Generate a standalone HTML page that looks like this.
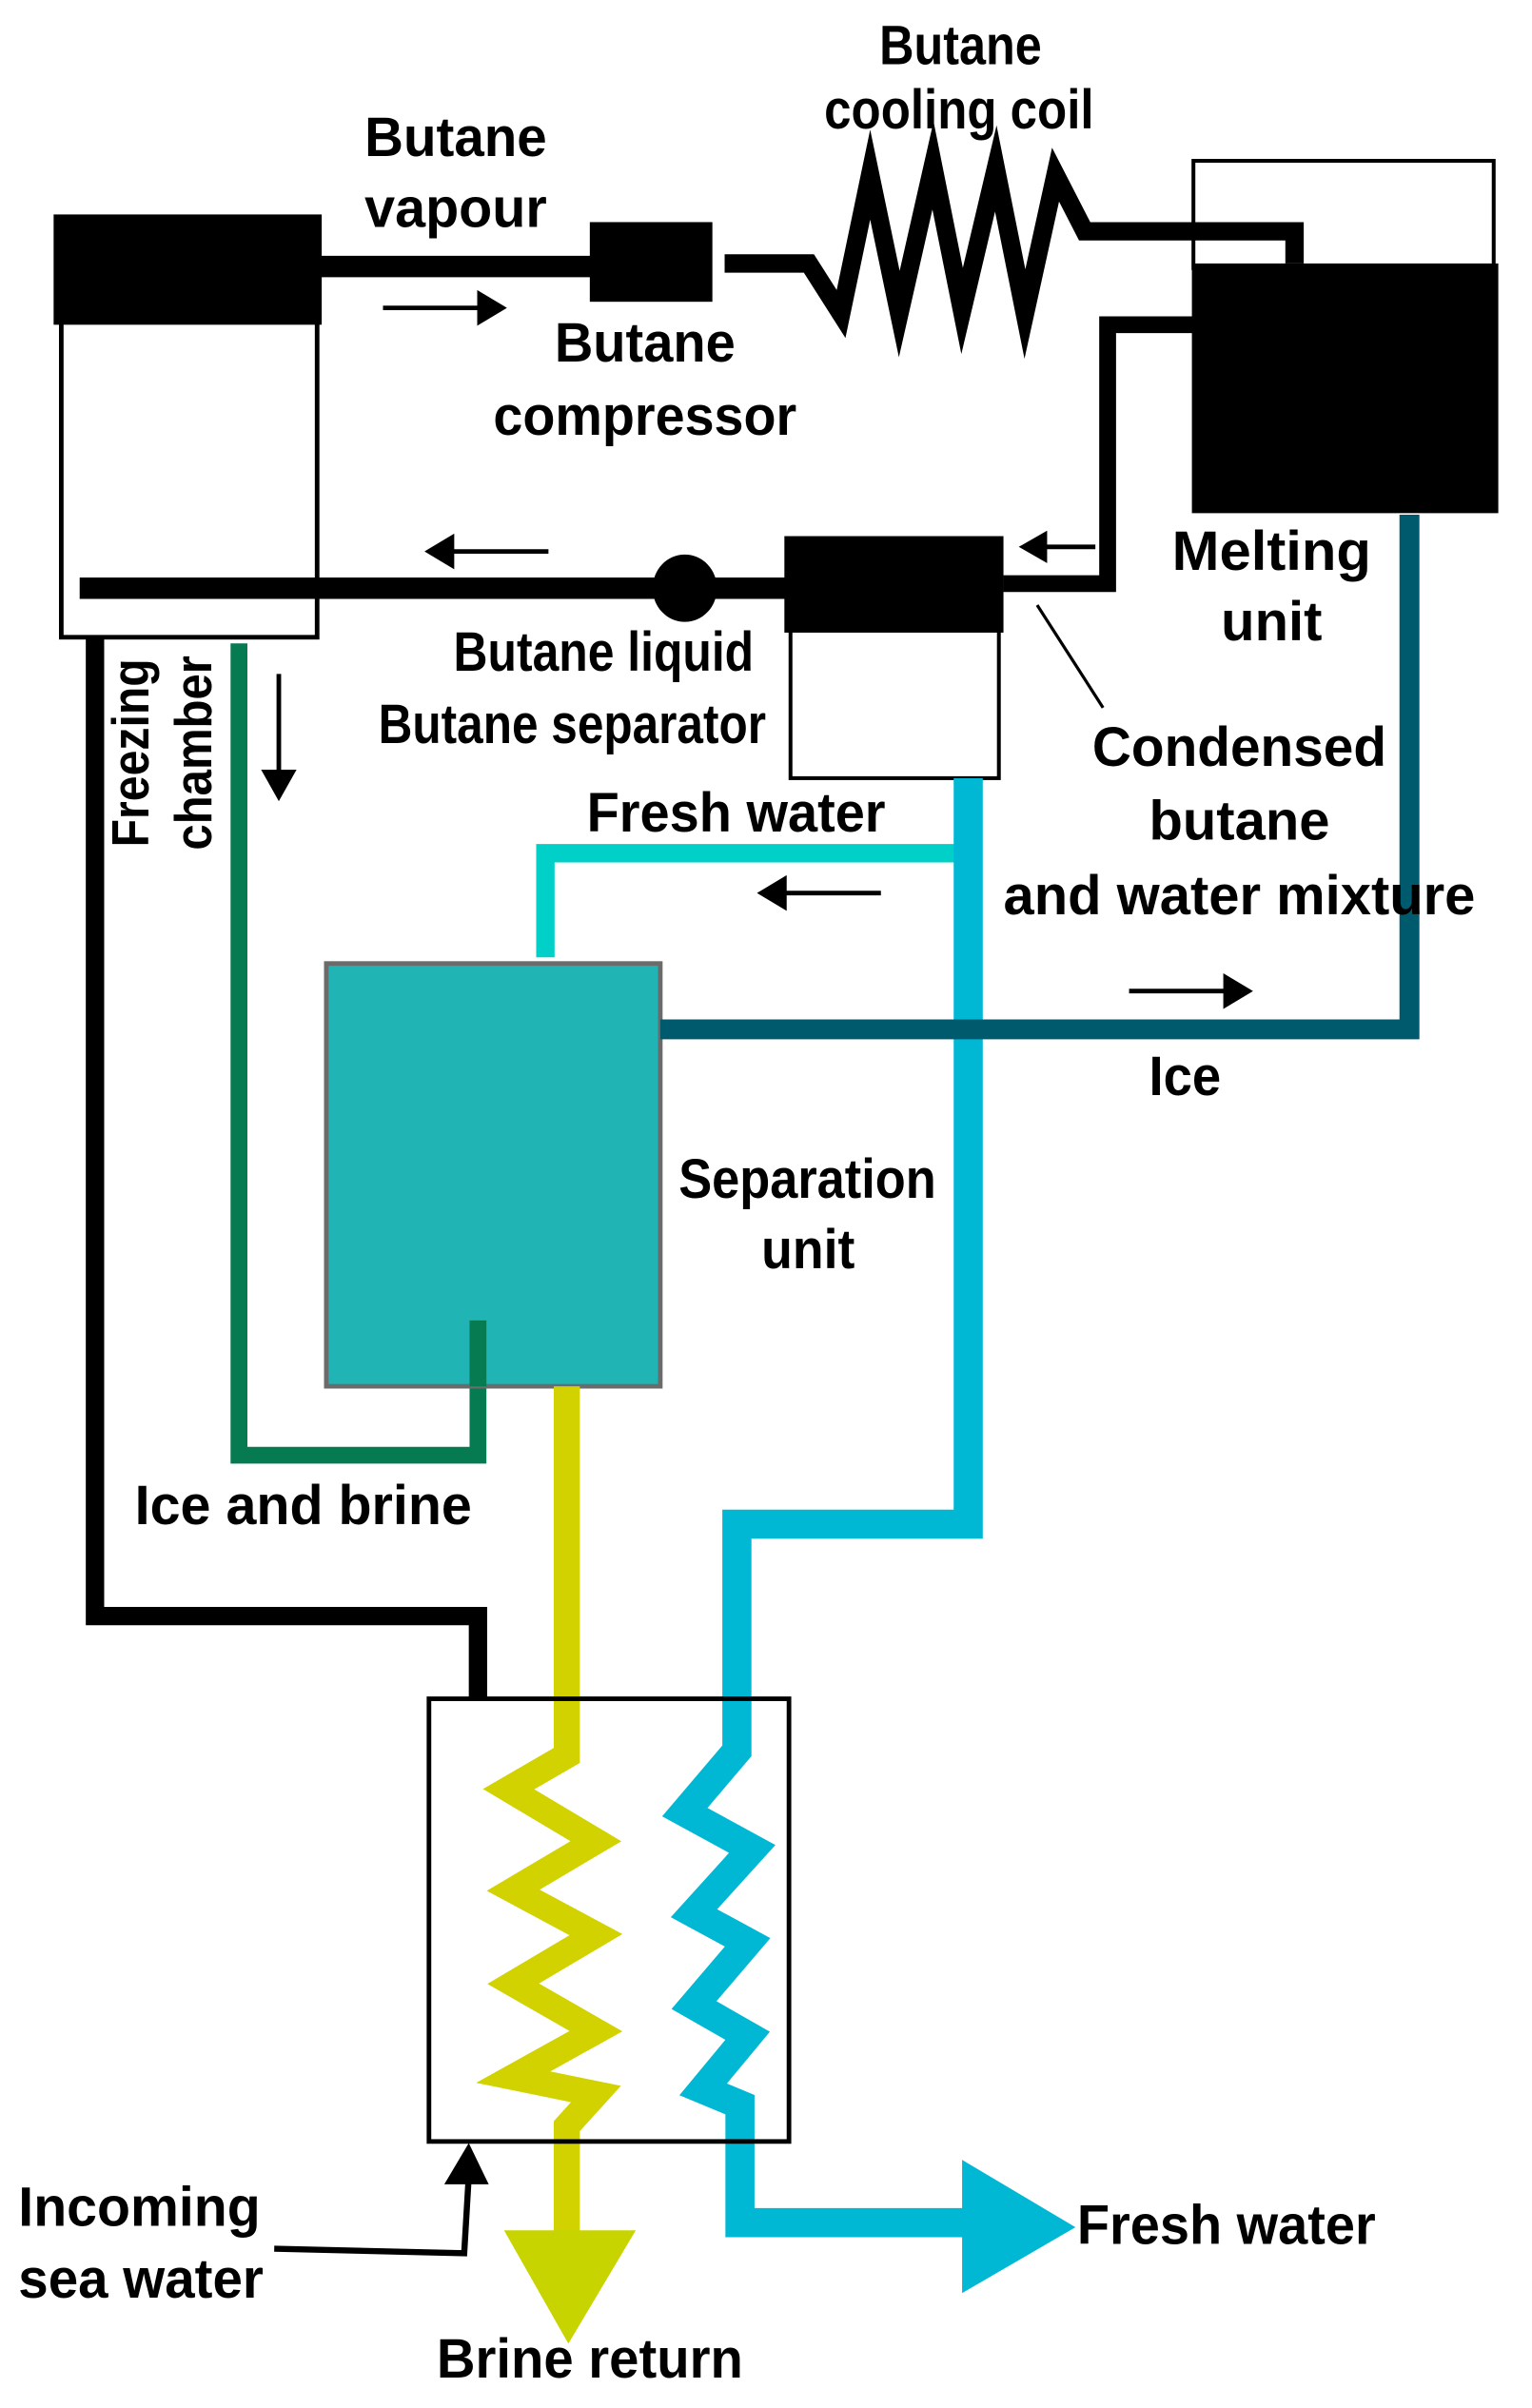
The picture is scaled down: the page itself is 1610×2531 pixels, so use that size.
<!DOCTYPE html>
<html><head><meta charset="utf-8"><style>
html,body{margin:0;padding:0;background:#fff;}
svg{display:block;}
text{font-family:"Liberation Sans",sans-serif;font-weight:bold;font-size:36px;fill:#000;}
</style></head><body>
<svg width="1610" height="2531" viewBox="0 0 1000 1572" preserveAspectRatio="none" xmlns="http://www.w3.org/2000/svg">
<rect width="1000" height="1572" fill="#fff"/>
<!-- freezing chamber -->
<rect x="40" y="205" width="167" height="211" fill="#fff" stroke="#000" stroke-width="3"/>
<rect x="35" y="140" width="175" height="72" fill="#000"/>
<!-- vapour pipe -->
<line x1="205" y1="174" x2="390" y2="174" stroke="#000" stroke-width="14"/>
<rect x="385" y="145" width="80" height="52" fill="#000"/>
<!-- melting unit -->
<rect x="779" y="105" width="196" height="70" fill="#fff" stroke="#000" stroke-width="2.5"/>
<!-- coil -->
<polyline points="473,172 528,172 549,205 568,114 587,205 609,108 628,203 650,110 669,205 689,114 708,151 845,151 845,172" fill="none" stroke="#000" stroke-width="12" stroke-linejoin="miter" stroke-miterlimit="10"/>
<rect x="778" y="172" width="200" height="163" fill="#000"/>
<!-- return pipe -->
<polyline points="780,212 723,212 723,381 655,381" fill="none" stroke="#000" stroke-width="11"/>
<!-- separator -->
<rect x="516" y="405" width="136" height="103" fill="#fff" stroke="#000" stroke-width="2.5"/>
<rect x="512" y="350" width="143" height="63" fill="#000"/>
<!-- liquid pipe -->
<line x1="52" y1="384" x2="515" y2="384" stroke="#000" stroke-width="14"/>
<ellipse cx="447" cy="384" rx="21" ry="22" fill="#000"/>
<!-- leader -->
<line x1="677" y1="395" x2="720" y2="462" stroke="#000" stroke-width="2"/>
<!-- black pipe to HX -->
<polyline points="62,416 62,1055 312,1055 312,1108" fill="none" stroke="#000" stroke-width="12"/>
<!-- green -->
<polyline points="156,420 156,950 312,950 312,862" fill="none" stroke="#067a50" stroke-width="11"/>
<!-- light cyan fresh -->
<polyline points="630,557 356,557 356,625" fill="none" stroke="#00d0c8" stroke-width="12"/>
<!-- blue fresh -->
<polyline points="632,508 632,995 481,995 481,1143 447,1183 491,1207 453,1249 488,1268 453,1309 488,1329 459,1364 483,1374 483,1451 635,1451" fill="none" stroke="#00b8d4" stroke-width="19"/>
<polygon points="628,1410 702,1454 628,1497" fill="#00b8d4"/>
<!-- separation unit -->
<rect x="213" y="629" width="218" height="276" fill="#20b5b4" stroke="#6b6b6b" stroke-width="3"/>
<line x1="312" y1="862" x2="312" y2="905" stroke="#067a50" stroke-width="11"/>
<!-- ice pipe -->
<polyline points="431,672 920,672 920,336" fill="none" stroke="#005a6e" stroke-width="13"/>
<!-- yellow -->
<polyline points="370,905 370,1146 332,1168 389,1202 335,1234 389,1263 335,1295 389,1326 335,1356 389,1367 370,1388 370,1460" fill="none" stroke="#d2d200" stroke-width="17"/>
<polygon points="329,1456 415,1456 371,1530" fill="#c8d400"/>
<!-- heat exchanger box -->
<rect x="280" y="1109" width="235" height="289" fill="none" stroke="#000" stroke-width="3"/>
<!-- incoming sea water arrow -->
<polyline points="179,1468 303,1471 306,1420" fill="none" stroke="#000" stroke-width="4"/>
<polygon points="306,1399 290,1426 319,1426" fill="#000"/>
<!-- arrows -->
<g stroke="#000" stroke-width="3" fill="#000">
<line x1="250" y1="201" x2="315" y2="201"/><polygon points="328,201 313,192 313,210"/>
<line x1="358" y1="360" x2="293" y2="360"/><polygon points="280,360 295,351 295,369"/>
<line x1="715" y1="357" x2="680" y2="357"/><polygon points="668,357 682,349 682,365"/>
<line x1="182" y1="440" x2="182" y2="505"/><polygon points="182,520 173,504 191,504"/>
<line x1="575" y1="583" x2="510" y2="583"/><polygon points="497,583 512,574 512,592"/>
<line x1="737" y1="647" x2="802" y2="647"/><polygon points="815,647 800,638 800,656"/>
</g>
<!-- labels -->
<text x="574" y="42" textLength="106" lengthAdjust="spacingAndGlyphs">Butane</text>
<text x="538" y="84" textLength="176" lengthAdjust="spacingAndGlyphs">cooling coil</text>
<text x="238" y="102" textLength="119" lengthAdjust="spacingAndGlyphs">Butane</text>
<text x="238" y="148" textLength="119" lengthAdjust="spacingAndGlyphs">vapour</text>
<text x="362" y="236" textLength="118" lengthAdjust="spacingAndGlyphs">Butane</text>
<text x="322" y="284" textLength="198" lengthAdjust="spacingAndGlyphs">compressor</text>
<text x="765" y="372" textLength="130" lengthAdjust="spacingAndGlyphs">Melting</text>
<text x="797" y="418" textLength="66" lengthAdjust="spacingAndGlyphs">unit</text>
<text x="296" y="438" textLength="196" lengthAdjust="spacingAndGlyphs">Butane liquid</text>
<text x="247" y="485" textLength="253" lengthAdjust="spacingAndGlyphs">Butane separator</text>
<text x="713" y="500" textLength="192" lengthAdjust="spacingAndGlyphs">Condensed</text>
<text x="750" y="548" textLength="118" lengthAdjust="spacingAndGlyphs">butane</text>
<text x="655" y="597" textLength="308" lengthAdjust="spacingAndGlyphs">and water mixture</text>
<text x="383" y="543" textLength="195" lengthAdjust="spacingAndGlyphs">Fresh water</text>
<text x="750" y="715" textLength="47" lengthAdjust="spacingAndGlyphs">Ice</text>
<text x="443" y="782" textLength="168" lengthAdjust="spacingAndGlyphs">Separation</text>
<text x="497" y="828" textLength="61" lengthAdjust="spacingAndGlyphs">unit</text>
<text x="88" y="995" textLength="220" lengthAdjust="spacingAndGlyphs">Ice and brine</text>
<text transform="translate(97,553) rotate(-90)" x="0" y="0" textLength="123" lengthAdjust="spacingAndGlyphs" style="font-size:34px">Freezing</text>
<text transform="translate(138,555) rotate(-90)" x="0" y="0" textLength="127" lengthAdjust="spacingAndGlyphs" style="font-size:34px">chamber</text>
<text x="12" y="1453" textLength="158" lengthAdjust="spacingAndGlyphs">Incoming</text>
<text x="12" y="1500" textLength="160" lengthAdjust="spacingAndGlyphs">sea water</text>
<text x="285" y="1552" textLength="200" lengthAdjust="spacingAndGlyphs">Brine return</text>
<text x="703" y="1465" textLength="195" lengthAdjust="spacingAndGlyphs">Fresh water</text>
</svg>
</body></html>
